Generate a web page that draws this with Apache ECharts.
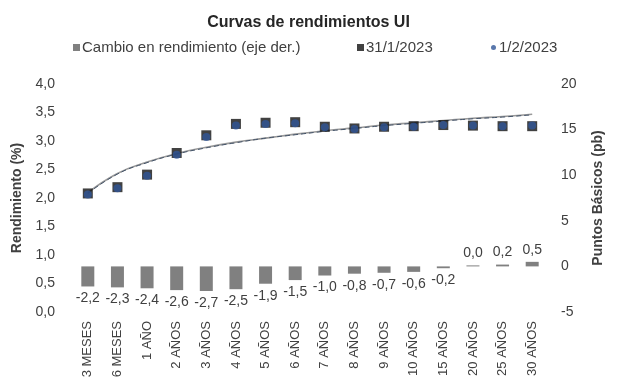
<!DOCTYPE html>
<html>
<head>
<meta charset="utf-8">
<script src="https://cdn.jsdelivr.net/npm/echarts@6/dist/echarts.min.js"></script>
<style>html,body{margin:0;padding:0;background:#fff;}#c{width:617px;height:388px;}</style>
</head>
<body>
<div id="c"></div>
<script>
var categories = ['3 MESES','6 MESES','1 AÑO','2 AÑOS','3 AÑOS','4 AÑOS','5 AÑOS','6 AÑOS','7 AÑOS','8 AÑOS','9 AÑOS','10 AÑOS','15 AÑOS','20 AÑOS','25 AÑOS','30 AÑOS'];
var changeBp = [-2.2,-2.3,-2.4,-2.6,-2.7,-2.5,-1.9,-1.5,-1.0,-0.8,-0.7,-0.6,-0.2,0.0,0.2,0.5];
var yields31 = [2.08,2.19,2.41,2.79,3.10,3.30,3.32,3.33,3.25,3.22,3.25,3.26,3.28,3.27,3.26,3.26];
var yields12 = [2.06,2.17,2.39,2.76,3.07,3.27,3.30,3.31,3.24,3.21,3.24,3.25,3.28,3.27,3.26,3.27];
var trend31 = [2.09,2.43,2.63,2.78,2.89,2.98,3.05,3.12,3.18,3.23,3.28,3.32,3.36,3.40,3.43,3.47];
var trend12 = [2.08,2.42,2.62,2.77,2.88,2.97,3.05,3.11,3.17,3.22,3.27,3.31,3.35,3.39,3.42,3.46];
var leftTicks = {min:0, max:4, interval:0.5};
var rightTicks = {min:-5, max:20, interval:5};

var txt = '#404040';
var FONT = 'Liberation Sans, Arial, sans-serif';
var chart = echarts.init(document.getElementById('c'), null, {renderer:'canvas'});

var barData = changeBp.map(function(v){
  return {value:v, label:{position: v >= 0 ? 'top' : 'bottom'}};
});
function fmt(v, d){ return v.toFixed(d).replace('.', ','); }

chart.setOption({
  animation:false,
  backgroundColor:'#fff',
  textStyle:{fontFamily:FONT},
  title:{text:'Curvas de rendimientos UI', left:'center', top:10,
    textStyle:{fontSize:16, fontWeight:'bold', color:'#262626', fontFamily:FONT}},
  legend:[
    {data:[{name:'Cambio en rendimiento (eje der.)', icon:'rect'}], left:68, top:35, itemWidth:7, itemHeight:7, itemGap:4,
      textStyle:{fontSize:15, color:txt, fontFamily:FONT, padding:[0,0,0,-3]}},
    {data:[{name:'31/1/2023', icon:'rect'}], left:352, top:35, itemWidth:7, itemHeight:7,
      textStyle:{fontSize:15, color:txt, fontFamily:FONT, padding:[0,0,0,-3]}},
    {data:[{name:'1/2/2023', icon:'circle'}], left:486, top:35, itemWidth:5, itemHeight:5,
      textStyle:{fontSize:15, color:txt, fontFamily:FONT, padding:[0,0,0,-2]}}
  ],
  grid:{left:73, right:70, top:84, bottom:76, containLabel:false},
  xAxis:{type:'category', data:categories,
    axisLine:{show:false}, axisTick:{show:false},
    axisLabel:{rotate:90, interval:0, margin:9, fontSize:13, color:txt, fontFamily:FONT}},
  yAxis:[
    {type:'value', min:leftTicks.min, max:leftTicks.max, interval:leftTicks.interval,
      name:'Rendimiento (%)', nameLocation:'middle', nameGap:38, nameRotate:90,
      nameTextStyle:{fontSize:14, fontWeight:'bold', color:txt, fontFamily:FONT},
      axisLine:{show:false}, axisTick:{show:false}, splitLine:{show:false},
      axisLabel:{fontSize:14, color:txt, margin:18, fontFamily:FONT, formatter:function(v){return fmt(v,1);}}},
    {type:'value', min:rightTicks.min, max:rightTicks.max, interval:rightTicks.interval,
      name:'Puntos Básicos (pb)', nameLocation:'middle', nameGap:44, nameRotate:90,
      nameTextStyle:{fontSize:14, fontWeight:'bold', color:txt, fontFamily:FONT},
      axisLine:{show:false}, axisTick:{show:false}, splitLine:{show:false},
      axisLabel:{fontSize:14, color:txt, margin:14, fontFamily:FONT}}
  ],
  series:[
    {name:'Cambio en rendimiento (eje der.)', type:'bar', yAxisIndex:1, data:barData, barWidth:13, barMinHeight:1,
      itemStyle:{color:'#808080'},
      label:{show:true, distance:5, fontSize:14, color:txt, fontFamily:FONT,
        formatter:function(p){return fmt(p.value,1);}}},
    {name:'tendencia 31/1', type:'line', data:trend31, smooth:true, symbol:'none', z:3,
      lineStyle:{color:'#9a9a9a', width:1.6}},
    {name:'tendencia 1/2', type:'line', data:trend12, smooth:true, symbol:'none', z:3,
      lineStyle:{color:'#44546A', width:1, type:[5,3]}},
    {name:'31/1/2023', type:'scatter', data:yields31, symbol:'rect', symbolSize:10, z:4,
      itemStyle:{color:'#111'}},
    {name:'1/2/2023', type:'scatter', data:yields12, symbol:'circle', symbolSize:8, z:5,
      itemStyle:{color:'#2F5597'}}
  ]
});
</script>
</body>
</html>
